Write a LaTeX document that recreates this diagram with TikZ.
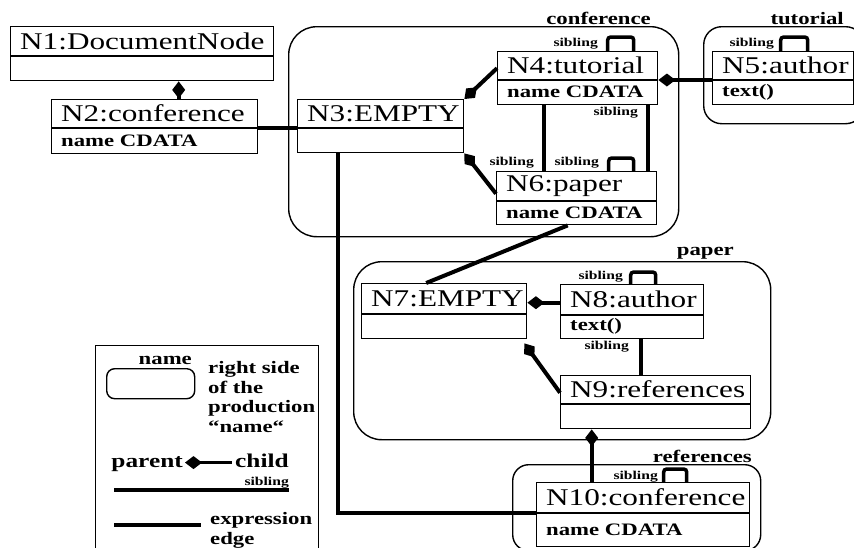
\documentclass[tikz,border=0pt]{standalone}
\usepackage{fontspec}
\setmainfont{Liberation Serif}[FakeStretch=1.3]
\usetikzlibrary{arrows.meta}
\tikzset{
  cbox/.style={draw, line width=1.4pt, inner sep=0pt, anchor=north west},
  ttl/.style={inner sep=0pt, anchor=west, font=\fontsize{24}{24}\selectfont},
  att/.style={inner sep=0pt, anchor=west, font=\bfseries\fontsize{17.5}{17.5}\selectfont},
  sib/.style={inner sep=0pt, anchor=east, font=\bfseries\fontsize{12}{12}\selectfont},
  clab/.style={inner sep=0pt, anchor=base east, font=\bfseries\fontsize{17.5}{17.5}\selectfont},
  leg/.style={inner sep=0pt, font=\bfseries\fontsize{17.5}{19.7}\selectfont, align=left},
  legbig/.style={inner sep=0pt, font=\bfseries\fontsize{19.5}{19.5}\selectfont},
  cont/.style={draw, line width=1.4pt, inner sep=0pt, anchor=north west},
  conn/.style={line width=4pt},
  loopline/.style={line width=3.5pt, rounded corners=3pt},
  par/.style={-{Diamond[length=17pt,width=13pt]}},
  rpar/.style={{Diamond[length=17pt,width=13pt]}-},
}
\newcommand\umlbox[8]{%
  \node[cbox, minimum width={(#4-#2)*1pt}, minimum height={(#6-#3)*1pt}] (#1) at (#2,#3) {};
  \coordinate (#1d) at (#2,#5);
  \draw[line width=1.4pt] (#1d) -- (#1d -| #1.east);
  \node[ttl] (#1t) at ({#2+10},{(#3+#5)/2}) {#7};
  \node[att] (#1a) at ({#2+10},{(#5+#6)/2}) {#8};
}
\begin{document}
\begin{tikzpicture}[x=1pt,y=-1pt]
\useasboundingbox (0,0) rectangle (854,547);
\clip (0,0) rectangle (854,547);
% containers
\node[cont, rounded corners=28pt, minimum width=390pt, minimum height=210pt] (Kconf) at (288,26) {};
\node[cont, rounded corners=18pt, minimum width=160pt, minimum height=97pt] (Ktut) at (703,26) {};
\node[cont, rounded corners=28pt, minimum width=417pt, minimum height=178pt] (Kpap) at (353,261) {};
\node[cont, rounded corners=16pt, minimum width=248pt, minimum height=86pt] (Kref) at (512,464) {};
\node[clab] (Lconf) at (651,24) {conference};
\node[clab] (Ltut) at (844,24) {tutorial};
\node[clab] (Lpap) at (734,255) {paper};
\node[clab] (Lref) at (752,462) {references};
% class boxes
\umlbox{N1}{10}{26}{273}{56}{80}{N1:DocumentNode}{}
\umlbox{N2}{51}{99}{257}{128}{153}{N2:conference}{name CDATA}
\umlbox{N3}{297}{99}{463}{128}{152}{N3:EMPTY}{}
\umlbox{N4}{497}{51}{657}{80}{104}{N4:tutorial}{name CDATA}
\umlbox{N5}{712}{51}{853}{80}{104}{N5:author}{text()}
\umlbox{N6}{496}{171}{656}{201}{224}{N6:paper}{name CDATA}
\umlbox{N7}{361}{283}{526}{314}{338}{N7:EMPTY}{}
\umlbox{N8}{560}{284}{703}{315}{338}{N8:author}{text()}
\umlbox{N9}{560}{375}{750}{404}{428}{N9:references}{}
\umlbox{N10}{536}{482}{749}{513}{546}{N10:conference}{name CDATA}
% sibling labels
\node[sib] (s1) at (598,44) {sibling};
\node[sib] (s2) at (638,113) {sibling};
\node[sib] (s3) at (534,163) {sibling};
\node[sib] (s4) at (599,163) {sibling};
\node[sib] (s5) at (774,44) {sibling};
\node[sib] (s6) at (623,277) {sibling};
\node[sib] (s7) at (629,347) {sibling};
\node[sib] (s8) at (658,477) {sibling};
% self loops
\draw[loopline] ([xshift=30pt]N4.north) -- ++(0,-14) -- ++(26,0) -- ++(0,14);
\draw[loopline] ([xshift=32pt]N6.north) -- ++(0,-13) -- ++(25,0) -- ++(0,13);
\draw[loopline] ([xshift=-2.5pt]N5.north) -- ++(0,-14) -- ++(27,0) -- ++(0,14);
\draw[loopline] ([xshift=-1.5pt]N8.north) -- ++(0,-12) -- ++(25,0) -- ++(0,12);
\draw[loopline] ([xshift=20.5pt]N10.north) -- ++(0,-13) -- ++(23,0) -- ++(0,13);
% connectors
\coordinate (c21) at ([xshift=24pt]N2.north);
\draw[conn, par] (c21) -- (c21 |- N1.south);
\draw[conn] (N2.east |- N2d) -- (N3.west |- N2d);
\draw[conn, rpar] (N3.north east) -- ([yshift=10pt]N4.west);
\draw[conn, rpar] (N3.south east) -- ([yshift=4.5pt]N6.west);
\draw[conn, par] (N5.west |- N4d) -- (N4.east |- N4d);
\coordinate (c46a) at ([xshift=-34pt]N4.south);
\coordinate (c46b) at ([xshift=70pt]N4.south);
\draw[conn] (c46a) -- (c46a |- N6.north);
\draw[conn] (c46b) -- (c46b |- N6.north);
\draw[conn] ([xshift=-9pt]N6.south) -- ([xshift=-18pt]N7.north);
\draw[conn] ([xshift=-43pt]N3.south) |- (N10.west |- N10d);
\coordinate (c87) at ([yshift=9pt]N8.west);
\draw[conn, par] (c87) -- (c87 -| N7.east);
\draw[conn, par] ([yshift=9.5pt]N9.west) -- ([xshift=-3pt,yshift=-4pt]N7.south east);
\coordinate (c89) at ([xshift=8.5pt]N8.south);
\draw[conn] (c89) -- (c89 |- N9.north);
\coordinate (c109) at ([xshift=-51.5pt]N10.north);
\draw[conn, par] (c109) -- (c109 |- N9.south);
% legend
\node[cont, minimum width=223pt, minimum height=215pt] (Leg) at (95,345) {};
\node[cont, rounded corners=8pt, minimum width=88pt, minimum height=30pt] (Lsample) at (106,368) {};
\node[clab] (Lname) at (192,364) {name};
\node[leg, anchor=north west] (Ltxt) at (208,361) {right side\\of the\\production\\“name“};
\node[legbig, anchor=base east] (Lpar) at (183,467) {parent};
\node[legbig, anchor=base west] (Lchi) at (235,467) {child};
\coordinate (lp) at ([xshift=2pt,yshift=1pt]Lpar.east);
\draw[conn, line width=3.5pt, rpar] (lp) -- ([xshift=-3pt]lp -| Lchi.west);
\coordinate (ls1) at (114,490);
\coordinate (ls2) at (289,490);
\draw[conn] (ls1) -- (ls2);
\node[sib] (s9) at (289,483) {sibling};
\coordinate (le1) at (114,525);
\coordinate (le2) at (201,525);
\draw[conn] (le1) -- (le2);
\node[leg, anchor=north west] (Lexp) at (210,512) {expression\\edge};
\end{tikzpicture}
\end{document}
